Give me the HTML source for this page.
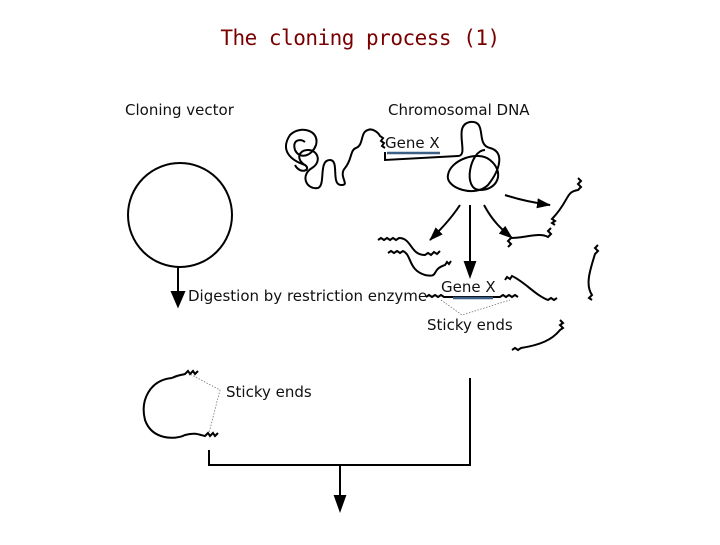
<!DOCTYPE html>
<html><head><style>
body{margin:0;background:#fff;width:720px;height:540px;overflow:hidden}
</style></head><body>
<svg width="720" height="540" viewBox="0 0 720 540" xmlns="http://www.w3.org/2000/svg">
<defs>
<marker id="b" markerWidth="14" markerHeight="10" refX="13" refY="5" orient="auto" markerUnits="userSpaceOnUse"><path d="M0,0 L14,5 L0,10 Z" fill="#000"/></marker></defs>
<text x="360" y="45" text-anchor="middle" font-family="'DejaVu Sans Mono','Liberation Mono',monospace" font-size="21" fill="#7a0000" letter-spacing="-0.5">The cloning process (1)</text>
<g font-family="'DejaVu Sans','Liberation Sans',sans-serif" font-size="15" fill="#111">
<text x="125" y="115">Cloning vector</text>
<text x="388" y="115">Chromosomal DNA</text>
<text x="385" y="148">Gene X</text>
<text x="188" y="301">Digestion by restriction enzyme</text>
<text x="441" y="292">Gene X</text>
<text x="427" y="330">Sticky ends</text>
<text x="226" y="397">Sticky ends</text>
</g>
<g fill="none" stroke="#000" stroke-width="2">
<circle cx="180" cy="215" r="52"/>
<line x1="178" y1="267" x2="178" y2="296"/>
<path d="M172,292 L184,292 L178,306 Z" fill="#000"/>
<!-- chromosome left tangle -->
<path d="M385,152 L385,160 L458,156 M385,148 l-3,-2 2,-3 -3,-2 2,-3 -3,-2 C378,132 372,128 368,130 C360,132 364,145 356,148 C350,150 352,160 345,168 C338,176 350,185 342,185 C330,186 340,160 330,160 C318,160 326,185 318,188 C306,190 300,175 312,168 C322,162 318,150 308,150 C298,150 296,160 305,165 C312,170 300,175 295,165 M305,165 C290,160 280,150 290,135 C300,125 320,130 316,145 C312,156 300,160 295,150 C292,140 300,138 305,142"/>
<path d="M458,156 C470,156 452,125 470,122 C488,120 475,145 490,148 C505,152 500,170 488,185 C475,198 445,188 448,175 C450,160 478,150 490,160 C505,172 498,190 480,190 C462,190 470,150 485,150"/>
<line x1="387" y1="153" x2="440" y2="153" stroke="#3b5f86" stroke-width="2.5"/>
<!-- arrows from chromosome -->
<line x1="470" y1="205" x2="470" y2="270"/>
<path d="M465,262 L475,262 L470,276 Z" fill="#000"/>
<path d="M460,205 C450,220 440,230 430,240" marker-end="url(#b)"/>
<path d="M484,205 C492,220 500,228 512,238" marker-end="url(#b)"/>
<path d="M505,195 C520,200 535,203 550,205" marker-end="url(#b)"/>
<!-- fragments -->
<path d="M378,240 l3,-2 3,2 3,-2 3,2 3,-2 3,2 3,-2 C412,238 410,255 425,255 l3,-2 3,2 3,-3 3,2 3,-3"/>
<path d="M388,253 l3,-2 3,2 3,-2 3,2 3,-2 C412,255 408,270 425,275 C440,278 430,270 445,265 l2,-3 2,2 2,-3"/>
<path d="M426,297 l3,-2 3,2 3,-2 3,2 3,-2 3,2 L500,297 l3,-2 3,2 3,-2 3,2 3,-2 3,2"/>
<line x1="453" y1="298" x2="493" y2="298" stroke="#3b5f86" stroke-width="2.5"/>
<path d="M505,280 l2,-3 3,2 2,-3 C525,282 535,295 548,300 l3,-2 3,2 3,-2"/>
<path d="M508,247 l3,-3 -3,-3 3,-3 C525,238 540,232 548,237 l3,-3 -3,-3 3,-3"/>
<path d="M555,225 l-3,-2 3,-2 -3,-2 C570,200 565,192 578,190 l3,-3 -3,-3 3,-3 -3,-3"/>
<path d="M598,245 l-3,3 3,3 -3,3 C590,270 585,285 592,295 l-3,3 3,2"/>
<path d="M512,350 l3,-2 3,2 3,-2 C540,345 552,340 560,330 l3,-2 -3,-3 3,-2 -3,-3"/>
<!-- vector opened -->
<path d="M172,378 C150,380 140,400 145,420 C152,440 175,440 185,435 C195,432 200,435 205,436 l3,-3 2,3 3,-3 2,3 3,-3" />
<path d="M172,378 C178,375 182,375 185,374 l3,-3 2,3 3,-3 2,3 3,-3"/>
<!-- bracket -->
<polyline points="209,450 209,465 470,465 470,378"/>
<line x1="340" y1="465" x2="340" y2="500"/>
<path d="M335,496 L345,496 L340,510 Z" fill="#000"/>
</g>
<g fill="none" stroke="#777" stroke-width="0.8" stroke-dasharray="1.5,1.5">
<polyline points="188,373 220,390 209,433"/>
<polyline points="441,300 462,315 510,300"/>
</g>
</svg>
</body></html>
